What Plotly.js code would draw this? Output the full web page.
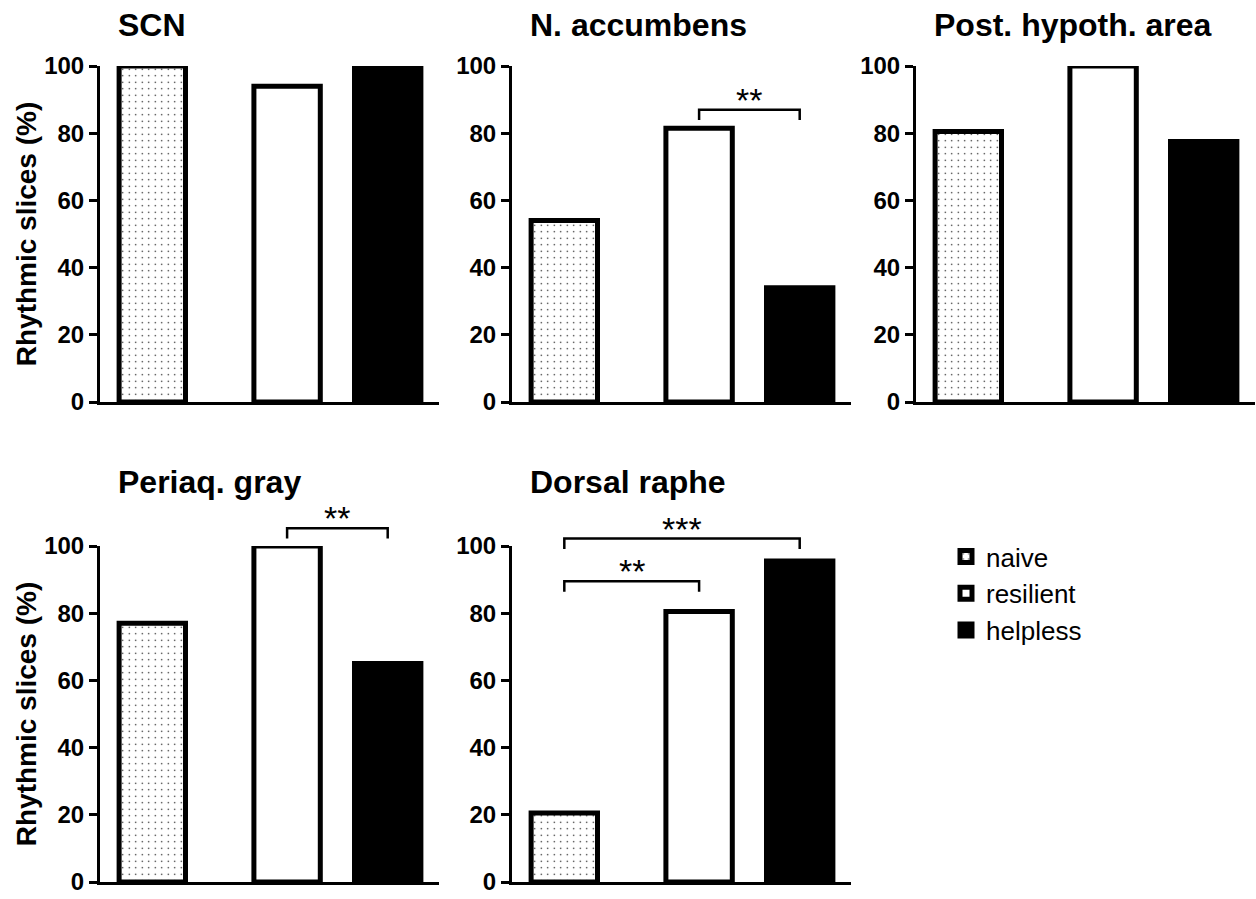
<!DOCTYPE html>
<html>
<head>
<meta charset="utf-8">
<script src="https://cdn.plot.ly/plotly-3.0.1.min.js"></script>
<style>
html,body{margin:0;padding:0;background:#fff;}
#chart{width:1256px;height:899px;}
</style>
</head>
<body>
<div id="chart"></div>
<script>
// ---------------- data ----------------
const regions = ['SCN', 'N. accumbens', 'Post. hypoth. area', 'Periaq. gray', 'Dorsal raphe'];
const groups = ['naive', 'resilient', 'helpless'];
const naive     = [100, 54, 80.5, 77, 20.5];
const resilient = [94, 81.5, 100, 100, 80.5];
const helpless  = [100, 34, 77.5, 65, 95.5];
const yTicks = [0, 20, 40, 60, 80, 100];
const yTitle = 'Rhythmic slices (%)';
const comparisons = [
  {region: 'N. accumbens', from: 'resilient', to: 'helpless', y: 87,   label: '**'},
  {region: 'Periaq. gray', from: 'resilient', to: 'helpless', y: 105.3, label: '**'},
  {region: 'Dorsal raphe', from: 'naive',     to: 'resilient', y: 89.5, label: '**'},
  {region: 'Dorsal raphe', from: 'naive',     to: 'helpless',  y: 102.2, label: '***'}
];

// ---------------- layout constants ----------------
const W = 1256, H = 899;
const FONT = 'Liberation Sans, Arial, Helvetica, sans-serif';
const colLeft = [100, 512, 916];      // px of y axis line
const rowTop = [66, 546];             // px where y = 100
const plotW = 339, plotH = 336;
const xRange = [-0.52, 2.85];
const yRange = [0, 100];
const groupPos = {naive: 0, resilient: 1.34, helpless: 2.34};
const barWidth = 0.66;
const legLen = 3.1;
const titleRowY = [25, 482];
const panelCell = [[0,0],[0,1],[0,2],[1,0],[1,1]];

const values = {naive: naive, resilient: resilient, helpless: helpless};
const styles = {
  naive:     {color: 'white', line: {color: 'black', width: 5},
              pattern: {shape: '.', fgcolor: 'black', bgcolor: 'white', size: 6.5, solidity: 0.035, fillmode: 'replace'}},
  resilient: {color: 'white', line: {color: 'black', width: 5}},
  helpless:  {color: 'black', line: {color: 'black', width: 5}}
};

const traces = [];
const layout = {
  width: W, height: H,
  margin: {l: 0, r: 0, t: 0, b: 0},
  paper_bgcolor: 'white', plot_bgcolor: 'white',
  font: {family: FONT, color: 'black'},
  showlegend: true,
  hovermode: false,
  legend: {
    x: 946 / W, y: 1 - 533 / H, xanchor: 'left', yanchor: 'top',
    font: {family: FONT, size: 26, color: 'black'},
    tracegroupgap: 13, bgcolor: 'rgba(0,0,0,0)', traceorder: 'normal'
  },
  shapes: [],
  annotations: []
};

regions.forEach((reg, i) => {
  const [r, c] = panelCell[i];
  const sfx = i === 0 ? '' : String(i + 1);
  const xa = 'x' + sfx, ya = 'y' + sfx;
  const left = colLeft[c], top = rowTop[r];
  layout['xaxis' + sfx] = {
    domain: [left / W, (left + plotW) / W],
    range: xRange, anchor: ya,
    showline: true, linecolor: 'black', linewidth: 3,
    showticklabels: false, ticks: '', showgrid: false, zeroline: false, fixedrange: true
  };
  const yax = {
    domain: [1 - (top + plotH) / H, 1 - top / H],
    range: yRange, anchor: xa,
    tickmode: 'array', tickvals: yTicks, ticktext: yTicks.map(String),
    ticks: 'outside', ticklen: 8, tickwidth: 3, tickcolor: 'black',
    showline: true, linecolor: 'black', linewidth: 3,
    showgrid: false, zeroline: false, fixedrange: true,
    tickfont: {family: FONT, size: 24, weight: 700, color: 'black'}
  };
  if (c === 0) {
    yax.title = {text: yTitle, font: {family: FONT, size: 28, weight: 700, color: 'black'}, standoff: 0};
  }
  layout['yaxis' + sfx] = yax;

  groups.forEach(g => {
    traces.push({
      type: 'bar', name: g, legendgroup: g, showlegend: i === 0,
      x: [groupPos[g]], y: [values[g][i]], width: [barWidth],
      xaxis: xa, yaxis: ya, cliponaxis: false,
      marker: styles[g]
    });
  });

  layout.annotations.push({
    xref: xa, yref: 'paper',
    x: groupPos.naive - barWidth / 2 - 0.03, xanchor: 'left',
    y: 1 - titleRowY[r] / H, yanchor: 'middle',
    text: reg, showarrow: false,
    font: {family: FONT, size: 32, weight: 700, color: 'black'}
  });
});

comparisons.forEach(cmp => {
  const i = regions.indexOf(cmp.region);
  const sfx = i === 0 ? '' : String(i + 1);
  const xa = 'x' + sfx, ya = 'y' + sfx;
  const x0 = groupPos[cmp.from], x1 = groupPos[cmp.to];
  const yt = (cmp.y - yRange[0]) / (yRange[1] - yRange[0]);
  const yb = (cmp.y - legLen - yRange[0]) / (yRange[1] - yRange[0]);
  layout.shapes.push({
    type: 'path', xref: xa, yref: ya + ' domain',
    path: `M${x0},${yb} L${x0},${yt} L${x1},${yt} L${x1},${yb}`,
    line: {color: 'black', width: 2.5}
  });
  layout.annotations.push({
    xref: xa, yref: ya + ' domain',
    x: (x0 + x1) / 2, y: yt, yanchor: 'bottom', yshift: -11,
    text: cmp.label, showarrow: false,
    font: {family: FONT, size: 34, color: 'black'}
  });
});

Plotly.newPlot('chart', traces, layout, {displayModeBar: false, staticPlot: true});
</script>
</body>
</html>
